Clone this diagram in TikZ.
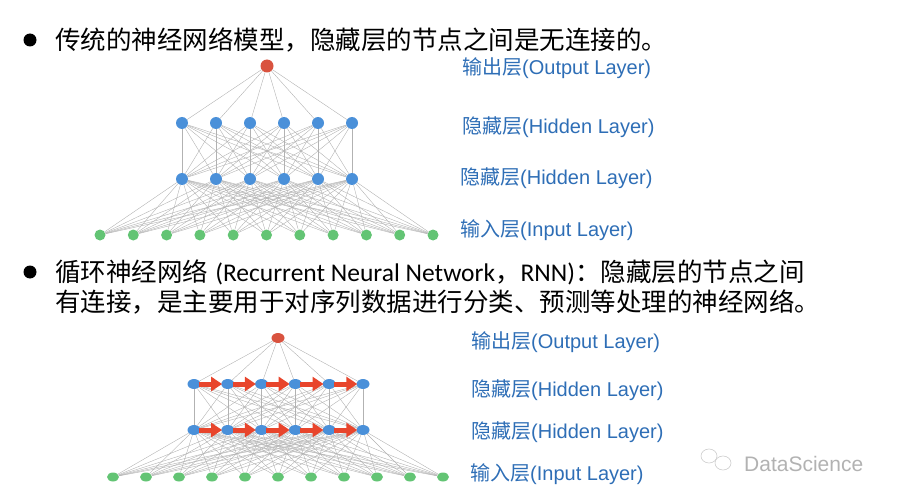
\documentclass[tikz,border=0pt]{standalone}
\usepackage{fontspec}
\setmainfont{Liberation Sans}
\newfontfamily\cjk{Noto Sans CJK SC}
\newfontfamily\calib{Carlito}
\usetikzlibrary{arrows.meta,shapes.geometric}
\definecolor{labelblue}{HTML}{2E6EB6}
\definecolor{nodeblue}{HTML}{4A90D9}
\definecolor{nodegreen}{HTML}{63C474}
\definecolor{outred}{HTML}{D9533F}
\definecolor{arrowred}{HTML}{E8452C}
\begin{document}
\begin{tikzpicture}[x=1pt,y=-1pt,
	outnode/.style={circle,fill=outred,inner sep=0pt,minimum size=13pt},
	hidnode/.style={circle,fill=nodeblue,inner sep=0pt,minimum size=12pt},
	innode/.style={circle,fill=nodegreen,inner sep=0pt,minimum size=11pt},
	routnode/.style={ellipse,fill=outred,inner sep=0pt,minimum width=13pt,minimum height=10pt},
	rhidnode/.style={ellipse,fill=nodeblue,inner sep=0pt,minimum width=13pt,minimum height=10pt},
	rinnode/.style={ellipse,fill=nodegreen,inner sep=0pt,minimum width=12pt,minimum height=9pt},
	edge/.style={draw=gray!60,line width=0.4pt},
	rnnarrow/.style={draw=arrowred,line width=5pt,shorten <=-2pt,shorten >=-1pt,-{Triangle[length=11pt,width=14pt]}},
	layerlabel/.style={anchor=west,inner sep=0pt,text=labelblue,font=\fontsize{20}{24}\selectfont},
	bullettext/.style={anchor=west,inner sep=0pt,font=\fontsize{25.5}{30}\selectfont}]
	\useasboundingbox (0,0) rectangle (897,500);
	% first bullet
	\fill (30,40) circle (6.5pt);
	\node[bullettext] (t1) at (55,40) {\cjk 传统的神经网络模型，隐藏层的节点之间是无连接的。};
	% plain network
	\node[outnode] (o) at (267,66) {};
	\foreach \x in {1,...,6}{
		\node[hidnode] (a\x) at ({148+34*\x},123) {};
		\node[hidnode] (b\x) at ({148+34*\x},179) {};
	}
	\foreach \x in {1,...,11}
		\node[innode] (i\x) at ({66.7+33.3*\x},235) {};
	\foreach \x in {1,...,6}{
		\draw[edge] (o) -- (a\x);
		\foreach \y in {1,...,6}
			\draw[edge] (a\x) -- (b\y);
		\foreach \y in {1,...,11}
			\draw[edge] (b\x) -- (i\y);
	}
	\node[layerlabel] (lo) at (462,68) {{\cjk 输出层}(Output Layer)};
	\node[layerlabel] (la) at (462,127) {{\cjk 隐藏层}(Hidden Layer)};
	\node[layerlabel] (lb) at (460,178) {{\cjk 隐藏层}(Hidden Layer)};
	\node[layerlabel] (li) at (460,230) {{\cjk 输入层}(Input Layer)};
	% second bullet
	\fill (30,272) circle (6.5pt);
	\node[bullettext] (t2) at (55,272) {{\cjk 循环神经网络} {\calib (Recurrent Neural Network}{\cjk ，}{\calib RNN)}{\cjk ：隐藏层的节点之间}};
	\node[bullettext] (t3) at (55,302) {\cjk 有连接，是主要用于对序列数据进行分类、预测等处理的神经网络。};
	% recurrent network
	\node[routnode] (ro) at (278,338) {};
	\foreach \x in {1,...,6}{
		\node[rhidnode] (ra\x) at ({160.2+33.8*\x},384) {};
		\node[rhidnode] (rb\x) at ({160.2+33.8*\x},430) {};
	}
	\foreach \x in {1,...,11}
		\node[rinnode] (ri\x) at ({80+33*\x},477) {};
	\foreach \x in {1,...,6}{
		\draw[edge] (ro) -- (ra\x);
		\foreach \y in {1,...,6}
			\draw[edge] (ra\x) -- (rb\y);
		\foreach \y in {1,...,11}
			\draw[edge] (rb\x) -- (ri\y);
	}
	\foreach \x [evaluate=\x as \y using int(\x+1)] in {1,...,5}{
		\draw[rnnarrow] (ra\x) -- (ra\y);
		\draw[rnnarrow] (rb\x) -- (rb\y);
	}
	\node[layerlabel] (rlo) at (471,342) {{\cjk 输出层}(Output Layer)};
	\node[layerlabel] (rla) at (471,390) {{\cjk 隐藏层}(Hidden Layer)};
	\node[layerlabel] (rlb) at (471,432) {{\cjk 隐藏层}(Hidden Layer)};
	\node[layerlabel] (rli) at (470,474) {{\cjk 输入层}(Input Layer)};
	% watermark
	\draw[gray!40,line width=0.6pt] (709,456) ellipse (8pt and 7pt);
	\draw[gray!40,line width=0.6pt,fill=white] (723,463) ellipse (8pt and 7pt);
	\node[anchor=west,inner sep=0pt,text=gray!60,font=\fontsize{21}{25}\selectfont] (ds) at (744,464) {DataScience};
\end{tikzpicture}
\end{document}
